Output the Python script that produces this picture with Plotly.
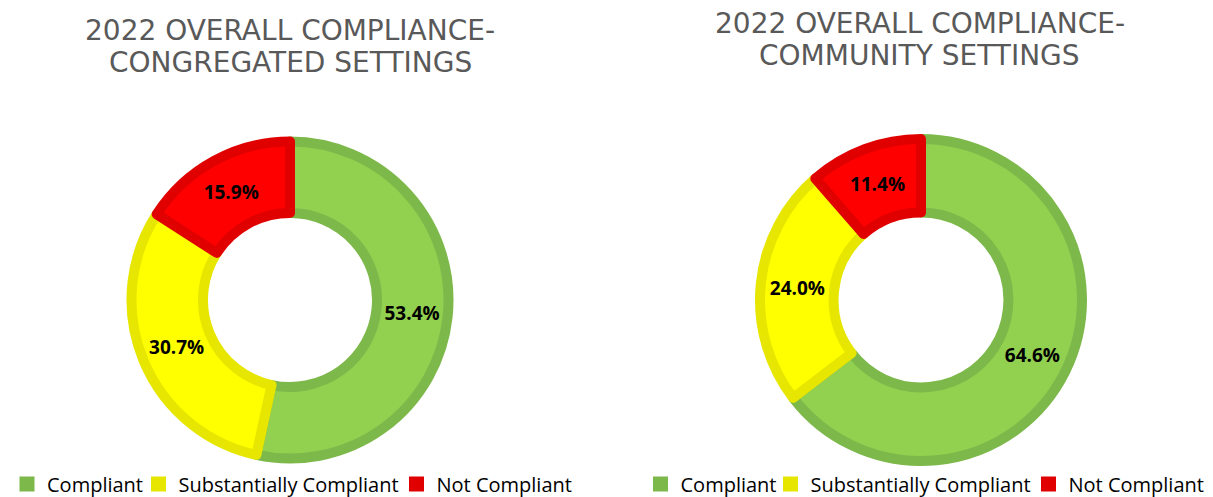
import plotly.graph_objects as go

labels = ["Compliant", "Substantially Compliant", "Not Compliant"]
congregated = [53.4, 30.7, 15.9]
community = [64.6, 24.0, 11.4]
title_left = ["2022 OVERALL COMPLIANCE-", "CONGREGATED SETTINGS"]
title_right = ["2022 OVERALL COMPLIANCE-", "COMMUNITY SETTINGS"]

fill_colors = ["#92D050", "#FFFF00", "#FF0000"]
line_colors = ["#7DB84A", "#E6E600", "#E00000"]

# figure sits inside the page's 8px body margin
W, H = 1205, 489

def px_x(x):
    return x / W

def px_y(y):
    return 1 - y / H

def dom(x0, x1, y0, y1):
    return dict(x=[px_x(x0), px_x(x1)], y=[px_y(y1), px_y(y0)])

fig = go.Figure()
pie_common = dict(
    labels=labels, sort=False, direction="clockwise", rotation=0,
    texttemplate="%{value:.1f}%", textposition="inside", insidetextorientation="horizontal",
    textfont=dict(family="Open Sans", size=19, color="black", weight="bold"),
    showlegend=False, hoverinfo="label+value",
)
fig.add_trace(go.Pie(
    values=congregated, hole=0.549,
    marker=dict(colors=fill_colors, line=dict(color=line_colors, width=10)),
    domain=dom(123.5, 440.5, 133.5, 450.5), **pie_common,
))
fig.add_trace(go.Pie(
    values=community, hole=0.543,
    marker=dict(colors=fill_colors, line=dict(color=line_colors, width=10)),
    domain=dom(752, 1074, 131, 453), **pie_common,
))

# legend entries: one legend per entry so each can be placed like the reference
legend_sym_x = [18, 149.5, 407.5, 651.5, 781.5, 1039.5]
legend_layout = {}
for i, x in enumerate(legend_sym_x):
    key = "legend" if i == 0 else f"legend{i + 1}"
    j = i % 3
    fig.add_trace(go.Scatter(
        x=[None], y=[None], mode="markers", name=labels[j], legend=key,
        marker=dict(symbol="square", size=15, color=line_colors[j], line=dict(width=0)),
        showlegend=True, hoverinfo="skip",
    ))
    legend_layout[key] = dict(
        x=px_x(x + 1 - 20), y=px_y(476), xanchor="left", yanchor="middle",
        orientation="h", font=dict(family="Open Sans", size=20, color="black"),
        bgcolor="rgba(0,0,0,0)", borderwidth=0, itemclick=False, itemdoubleclick=False,
    )

annotations = []
for lines, cx, ys in [(title_left, 282, [22, 55]), (title_right, 911.5, [15, 47])]:
    for text, yy in zip(lines, ys):
        annotations.append(dict(
            text=text, x=px_x(cx), y=px_y(yy), xref="paper", yref="paper", showarrow=False,
            font=dict(family="DejaVu Sans", size=28, color="#595959"),
            xanchor="center", yanchor="middle",
        ))

fig.update_layout(
    width=W, height=H, margin=dict(l=0, r=0, t=0, b=0, autoexpand=False),
    paper_bgcolor="white", plot_bgcolor="white",
    xaxis=dict(visible=False), yaxis=dict(visible=False),
    annotations=annotations,
    **legend_layout,
)
fig.write_html("out.html")
